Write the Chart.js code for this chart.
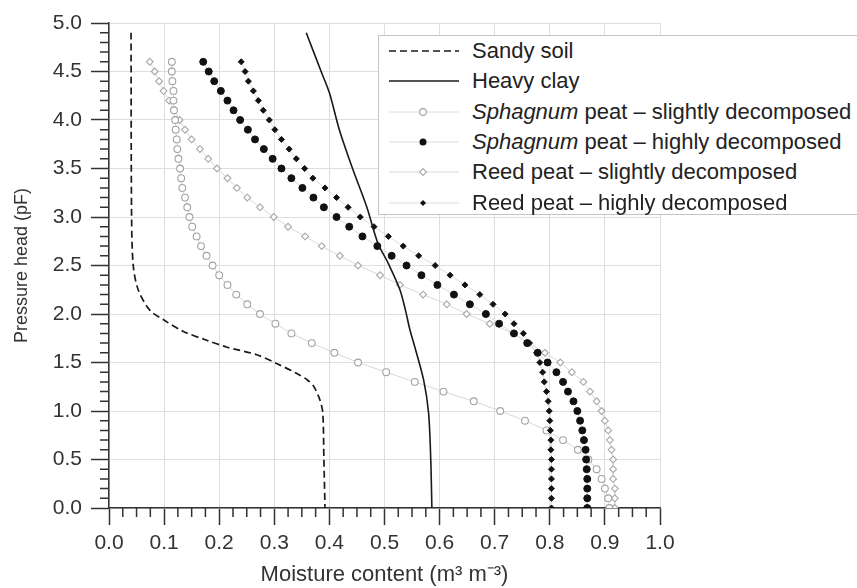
<!DOCTYPE html>
<html>
<head>
<meta charset="utf-8">
<script src="https://cdn.jsdelivr.net/npm/chart.js@4.4.1/dist/chart.umd.min.js"></script>
<style>
  body { margin: 0; background: #fff; overflow: hidden; }
  #wrap { position: relative; width: 857px; height: 588px; }
  #legend {
    position: absolute; left: 378px; top: 35px; width: 490px; height: 178px;
    background: #fff; border: 1px solid #c4c4c4;
    font-family: 'Liberation Sans', Arial, sans-serif; font-size: 22px; color: #222;
  }
  .row { position: absolute; left: 0; height: 30px; line-height: 30px; white-space: nowrap; }
  .row svg { position: absolute; left: 9px; top: 0; }
  .row span.txt { position: absolute; left: 93px; top: 0; }
</style>
</head>
<body>
<div id="wrap">
  <canvas id="chart" width="857" height="588"></canvas>
  <div id="legend"></div>
</div>
<script>
// pressure head levels (pF) of the measured peat points
const pfLevels = [4.6, 4.5, 4.4, 4.3, 4.2, 4.1, 4.0, 3.9, 3.8, 3.7, 3.6, 3.5, 3.4, 3.3, 3.2, 3.1,
  3.0, 2.9, 2.8, 2.7, 2.6, 2.5, 2.4, 2.3, 2.2, 2.1, 2.0, 1.9, 1.8, 1.7, 1.6, 1.5,
  1.4, 1.3, 1.2, 1.1, 1.0, 0.9, 0.8, 0.7, 0.6, 0.5, 0.4, 0.3, 0.2, 0.1, 0.0];

const sphagnumSlight = [0.114, 0.114, 0.115, 0.117, 0.117, 0.118, 0.120, 0.121, 0.123, 0.124, 0.126, 0.129, 0.131, 0.133, 0.138, 0.142,
  0.146, 0.151, 0.159, 0.167, 0.177, 0.188, 0.200, 0.215, 0.231, 0.251, 0.274, 0.302, 0.331, 0.368, 0.409, 0.452,
  0.503, 0.555, 0.607, 0.662, 0.710, 0.755, 0.794, 0.824, 0.851, 0.870, 0.885, 0.894, 0.900, 0.906, 0.908];

const sphagnumHigh = [0.171, 0.181, 0.191, 0.203, 0.215, 0.226, 0.238, 0.252, 0.265, 0.281, 0.297, 0.313, 0.331, 0.351, 0.371, 0.390,
  0.413, 0.436, 0.460, 0.487, 0.513, 0.540, 0.567, 0.596, 0.626, 0.655, 0.684, 0.708, 0.735, 0.759, 0.778, 0.796,
  0.812, 0.824, 0.833, 0.843, 0.850, 0.855, 0.859, 0.862, 0.865, 0.866, 0.867, 0.868, 0.868, 0.868, 0.868];

const reedSlight = [0.074, 0.083, 0.091, 0.099, 0.109, 0.118, 0.128, 0.138, 0.150, 0.165, 0.180, 0.196, 0.215, 0.232, 0.251, 0.274,
  0.299, 0.325, 0.356, 0.386, 0.419, 0.452, 0.492, 0.528, 0.570, 0.613, 0.649, 0.691, 0.734, 0.762, 0.791, 0.819,
  0.840, 0.861, 0.873, 0.885, 0.894, 0.900, 0.906, 0.909, 0.912, 0.915, 0.915, 0.915, 0.918, 0.918, 0.918];

const reedHigh = [0.240, 0.247, 0.253, 0.262, 0.271, 0.280, 0.291, 0.301, 0.313, 0.327, 0.340, 0.355, 0.370, 0.392, 0.413, 0.434,
  0.456, 0.481, 0.507, 0.534, 0.562, 0.592, 0.619, 0.646, 0.673, 0.697, 0.719, 0.735, 0.752, 0.763, 0.776, 0.782,
  0.787, 0.790, 0.794, 0.797, 0.799, 0.800, 0.801, 0.802, 0.802, 0.803, 0.803, 0.803, 0.803, 0.803, 0.803];

// continuous curves
const sandyPf = [4.9, 3.0, 2.5, 2.25, 2.04, 1.94, 1.82, 1.73, 1.66, 1.58, 1.49, 1.39, 1.32, 1.25, 1.11, 0.98, 0.5, 0.0];
const sandyMoisture = [0.040, 0.041, 0.044, 0.053, 0.074, 0.099, 0.135, 0.177, 0.213, 0.268, 0.304, 0.340, 0.360, 0.372, 0.383, 0.388, 0.390, 0.392];

const clayPf = [4.9, 4.5, 4.28, 3.9, 3.5, 3.1, 2.73, 2.52, 2.25, 2.04, 1.84, 1.66, 1.32, 0.98, 0.49, 0.0];
const clayMoisture = [0.358, 0.385, 0.400, 0.418, 0.442, 0.468, 0.488, 0.507, 0.528, 0.538, 0.546, 0.555, 0.571, 0.580, 0.584, 0.586];

const moistureTicks = [0, 0.1, 0.2, 0.3, 0.4, 0.5, 0.6, 0.7, 0.8, 0.9, 1.0];
const pfTicks = [0, 0.5, 1.0, 1.5, 2.0, 2.5, 3.0, 3.5, 4.0, 4.5, 5.0];

const FONT = "'Liberation Sans', Arial, sans-serif";

function toPoints(xs, ys) {
  return xs.map((v, i) => ({ x: v, y: ys[i] }));
}

const series = [
  { label: 'Sandy soil', data: toPoints(sandyMoisture, sandyPf), borderColor: '#1a1a1a', borderWidth: 1.7,
    borderDash: [7, 4], pointRadius: 0, tension: 0.3 },
  { label: 'Heavy clay', data: toPoints(clayMoisture, clayPf), borderColor: '#1a1a1a', borderWidth: 1.6,
    pointRadius: 0, tension: 0.3 },
  { label: 'Sphagnum peat – highly decomposed', data: toPoints(sphagnumHigh, pfLevels), borderColor: '#dcdcdc',
    borderWidth: 1, pointStyle: 'circle', pointRadius: 3.5, pointBackgroundColor: '#111', pointBorderColor: '#111', pointBorderWidth: 1 },
  { label: 'Reed peat – highly decomposed', data: toPoints(reedHigh, pfLevels), borderColor: '#dcdcdc',
    borderWidth: 1, pointStyle: 'rectRot', pointRadius: 3, pointBackgroundColor: '#111', pointBorderColor: '#111', pointBorderWidth: 1 },
  { label: 'Sphagnum peat – slightly decomposed', data: toPoints(sphagnumSlight, pfLevels), borderColor: '#d8d8d8',
    borderWidth: 1, pointStyle: 'circle', pointRadius: 3.4, pointBackgroundColor: '#fff', pointBorderColor: '#a2a2a2', pointBorderWidth: 1.1 },
  { label: 'Reed peat – slightly decomposed', data: toPoints(reedSlight, pfLevels), borderColor: '#d8d8d8',
    borderWidth: 1, pointStyle: 'rectRot', pointRadius: 3.4, pointBackgroundColor: '#fff', pointBorderColor: '#a8a8a8', pointBorderWidth: 1.1 }
];

// short unlabelled ticks between the numbered ones
const minorTicks = {
  id: 'minorTicks',
  afterDraw(chart) {
    const { ctx, scales: { x, y } } = chart;
    ctx.save();
    ctx.strokeStyle = '#333';
    ctx.lineWidth = 1.5;
    ctx.beginPath();
    for (let i = 1; i < 40; i++) {
      if (i % 4 === 0) continue;
      const px = x.getPixelForValue(i * 0.025);
      ctx.moveTo(px, x.top);
      ctx.lineTo(px, x.top + 9);
    }
    for (let i = 1; i < 50; i++) {
      if (i % 5 === 0) continue;
      const py = y.getPixelForValue(i * 0.1);
      ctx.moveTo(y.right - 9, py);
      ctx.lineTo(y.right, py);
    }
    ctx.stroke();
    ctx.restore();
  }
};

new Chart(document.getElementById('chart'), {
  type: 'scatter',
  data: { datasets: series.map(s => Object.assign({ showLine: true, fill: false }, s)) },
  options: {
    responsive: false,
    animation: false,
    layout: { padding: { top: 23, right: 197, left: 0, bottom: 0 } },
    plugins: { legend: { display: false }, tooltip: { enabled: false } },
    scales: {
      x: {
        type: 'linear', min: 0, max: 1,
        afterBuildTicks: s => { s.ticks = moistureTicks.map(v => ({ value: v })); },
        afterFit: s => { s.height = 80; },
        grid: { color: '#dedede', lineWidth: 1, tickColor: '#333', tickWidth: 1.5, tickLength: 17 },
        border: { color: '#333', width: 1.5 },
        ticks: { color: '#333', padding: 6, font: { family: FONT, size: 21 }, callback: v => v.toFixed(1) },
        title: { display: true, text: 'Moisture content (m³ m⁻³)', color: '#333',
          font: { family: FONT, size: 22 }, padding: { top: 0, bottom: 0 } }
      },
      y: {
        type: 'linear', min: 0, max: 5,
        afterBuildTicks: s => { s.ticks = pfTicks.map(v => ({ value: v })); },
        afterFit: s => { s.width = 109; },
        grid: { color: '#dedede', lineWidth: 1, tickColor: '#333', tickWidth: 1.5, tickLength: 18 },
        border: { color: '#333', width: 1.5 },
        ticks: { color: '#333', padding: 9, font: { family: FONT, size: 21 }, callback: v => v.toFixed(1) },
        title: { display: true, text: 'Pressure head (pF)', color: '#333',
          font: { family: FONT, size: 18 }, padding: { top: 11, bottom: 0 } }
      }
    }
  },
  plugins: [minorTicks]
});

// legend drawn as html over the plot
const legendRows = [
  { html: 'Sandy soil', line: 'dash' },
  { html: 'Heavy clay', line: 'solid' },
  { html: '<i>Sphagnum</i> peat – slightly decomposed', marker: 'circle-open' },
  { html: '<i>Sphagnum</i> peat – highly decomposed', marker: 'circle-filled' },
  { html: 'Reed peat – slightly decomposed', marker: 'diamond-open' },
  { html: 'Reed peat – highly decomposed', marker: 'diamond-filled' }
];

function sampleSvg(row) {
  let s = '<svg width="72" height="30" xmlns="http://www.w3.org/2000/svg">';
  if (row.line === 'dash') {
    s += '<line x1="1" y1="15" x2="71" y2="15" stroke="#1a1a1a" stroke-width="1.7" stroke-dasharray="7,4"/>';
  } else if (row.line === 'solid') {
    s += '<line x1="1" y1="15" x2="71" y2="15" stroke="#1a1a1a" stroke-width="1.6"/>';
  } else {
    s += '<line x1="1" y1="15" x2="71" y2="15" stroke="#dcdcdc" stroke-width="1"/>';
    if (row.marker === 'circle-open') s += '<circle cx="35" cy="15" r="3.4" fill="#fff" stroke="#a2a2a2" stroke-width="1.1"/>';
    if (row.marker === 'circle-filled') s += '<circle cx="35" cy="15" r="3.5" fill="#111"/>';
    if (row.marker === 'diamond-open') s += '<polygon points="35,11.6 38.4,15 35,18.4 31.6,15" fill="#fff" stroke="#a8a8a8" stroke-width="1.1"/>';
    if (row.marker === 'diamond-filled') s += '<polygon points="35,12 38,15 35,18 32,15" fill="#111"/>';
  }
  return s + '</svg>';
}

const legendEl = document.getElementById('legend');
legendRows.forEach((row, i) => {
  const div = document.createElement('div');
  div.className = 'row';
  div.style.top = (i * 30.3) + 'px';
  div.innerHTML = sampleSvg(row) + '<span class="txt">' + row.html + '</span>';
  legendEl.appendChild(div);
});
</script>
</body>
</html>
